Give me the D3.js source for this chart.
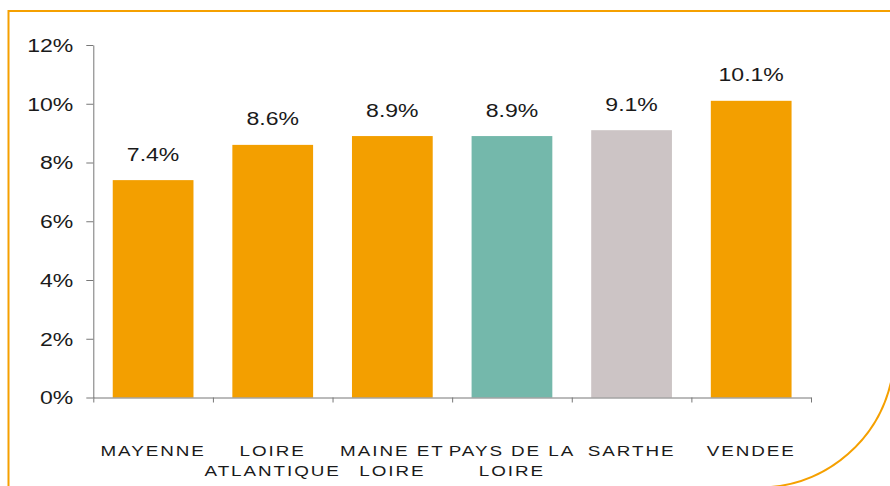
<!DOCTYPE html>
<html>
<head>
<meta charset="utf-8">
<script src="https://cdn.jsdelivr.net/npm/d3@7"></script>
<style>
  body { margin: 0; background: #fff; }
  svg { display: block; font-family: "Liberation Sans", Arial, sans-serif; }
</style>
</head>
<body>
<svg></svg>
<script>
//DATA
var categories = ["MAYENNE", "LOIRE ATLANTIQUE", "MAINE ET LOIRE", "PAYS DE LA LOIRE", "SARTHE", "VENDEE"];
var labelLines = [["MAYENNE"], ["LOIRE", "ATLANTIQUE"], ["MAINE ET", "LOIRE"], ["PAYS DE LA", "LOIRE"], ["SARTHE"], ["VENDEE"]];
var values = [7.4, 8.6, 8.9, 8.9, 9.1, 10.1];
var barColors = ["#F39F00", "#F39F00", "#F39F00", "#74B8AB", "#CCC4C5", "#F39F00"];
var yTicks = [0, 2, 4, 6, 8, 10, 12];

//SET UP THE CANVAS
var w = 890;
var h = 486;
var svg = d3.select("svg")
     .attr("width", w)
     .attr("height", h);

var plotLeft = 93.3, plotRight = 811, plotTop = 45, plotBottom = 397.5;
var stretch = 1.28;

//decorative frame
var frameColor = "#F5A000";
svg.append("path")
     .attr("d", "M8.5,487 L8.5,11 L891,11")
     .attr("fill", "none")
     .attr("stroke", frameColor)
     .attr("stroke-width", 2);
svg.append("path")
     .attr("d", "M891,382 A136,136 0 0 1 771,487")
     .attr("fill", "none")
     .attr("stroke", frameColor)
     .attr("stroke-width", 2);

//SCALES
var x = d3.scaleBand()
     .domain(categories)
     .range([plotLeft, plotRight])
     .paddingInner(0.325)
     .paddingOuter(0.1625);
var xEdge = d3.scaleLinear()
     .domain([0, categories.length])
     .range([plotLeft, plotRight]);
var y = d3.scaleLinear()
     .domain([0, 12])
     .range([plotBottom, plotTop]);

//BARS
svg.selectAll(".bar")
     .data(values)
     .enter()
     .append("rect")
     .attr("class", "bar")
     .attr("x", (d, i) => x(categories[i]))
     .attr("width", x.bandwidth())
     .attr("y", d => y(d))
     .attr("height", d => y(0) - y(d))
     .attr("fill", (d, i) => barColors[i]);

//VALUE LABELS
svg.selectAll(".val")
     .data(values)
     .enter()
     .append("text")
     .attr("class", "val")
     .attr("transform", (d, i) => "translate(" + (x(categories[i]) + x.bandwidth() / 2) + "," + (y(d) - 19.5) + ") scale(" + stretch + ",1)")
     .attr("text-anchor", "middle")
     .attr("font-size", 18)
     .attr("fill", "#1a1a1a")
     .text(d => d.toFixed(1) + "%");

//Y AXIS
var yAxis = svg.append("g")
     .attr("transform", "translate(" + plotLeft + ",0)")
     .call(d3.axisLeft(y).tickValues(yTicks).tickFormat(d => d + "%").tickSize(7).tickSizeOuter(0));
yAxis.selectAll("path, line").attr("stroke", "#777");
yAxis.selectAll("text")
     .attr("x", 0)
     .attr("dy", "0.35em")
     .attr("transform", "translate(-20,0) scale(" + stretch + ",1)")
     .attr("font-size", 18)
     .attr("font-family", "Liberation Sans, Arial, sans-serif")
     .attr("fill", "#1a1a1a");

//X AXIS
var xAxis = svg.append("g")
     .attr("transform", "translate(0," + plotBottom + ")")
     .call(d3.axisBottom(xEdge).ticks(categories.length).tickSize(5).tickSizeOuter(0).tickFormat(""));
xAxis.selectAll("path, line").attr("stroke", "#777");

//CATEGORY LABELS
var cat = svg.selectAll(".cat")
     .data(labelLines)
     .enter()
     .append("g")
     .attr("class", "cat")
     .attr("transform", (d, i) => "translate(" + (x(categories[i]) + x.bandwidth() / 2) + ",0)");
cat.selectAll("text")
     .data(d => d)
     .enter()
     .append("text")
     .attr("transform", (d, j) => "translate(0," + (456 + j * 20) + ") scale(1.3,1)")
     .attr("text-anchor", "middle")
     .attr("font-size", 14.5)
     .attr("letter-spacing", 1.5)
     .attr("fill", "#1a1a1a")
     .text(d => d);
</script>
</body>
</html>
